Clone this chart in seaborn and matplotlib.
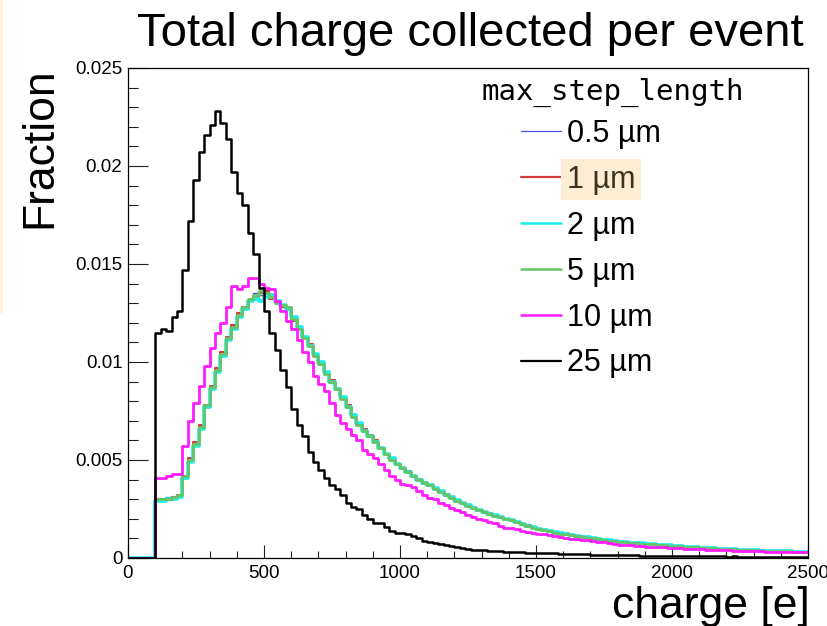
import numpy as np
import pandas as pd
import matplotlib
matplotlib.use("Agg")
import matplotlib.pyplot as plt
from matplotlib.ticker import MultipleLocator, FuncFormatter
from matplotlib.lines import Line2D
from matplotlib.patches import Rectangle
import seaborn as sns

sns.set_style("ticks")
plt.rcParams["font.family"] = ["Liberation Sans", "DejaVu Sans"]
plt.rcParams["text.color"] = "black"
plt.rcParams["axes.labelcolor"] = "black"
plt.rcParams["xtick.color"] = "black"
plt.rcParams["ytick.color"] = "black"

# Histogram binning of collected charge [e]; nothing is recorded below threshold
charge_threshold = 100
charge_max = 2500
bin_width = 20

step_labels = ["0.5 µm", "1 µm", "2 µm", "5 µm", "10 µm", "25 µm"]
step_colors = ["#4a55f0", "#d23c3c", "#19eef0", "#66c466", "#ff1cff", "#000000"]
plot_widths = [1.0, 1.5, 2.6, 2.0, 2.0, 1.8]
legend_widths = [0.9, 1.6, 1.8, 1.8, 1.8, 1.6]

# Fraction of events per bin, in units of 1e-4, bins starting at 100 e
frac_0p5um = [
    30, 30, 31, 31, 32, 41, 50, 59, 68, 77,
    87, 96, 104, 112, 118, 124, 127, 132, 135, 134,
    135, 134, 130, 128, 128, 122, 117, 112, 108, 103,
    100, 94, 90, 86, 81, 77, 72, 68, 65, 62,
    59, 56, 53, 50, 48, 46, 44, 42, 40, 38.5,
    37, 35, 33.5, 32, 30.5, 29, 28, 26.5, 25.5, 24.5,
    23.5, 22.5, 21.5, 21, 20, 19.5, 18.5, 17.5, 16.5, 15.5,
    15, 14.2, 13.6, 13, 12.5, 12, 11.6, 11.2, 10.8, 10.4,
    10, 9.6, 9.2, 8.9, 8.6, 8.3, 8.0, 7.8, 7.6, 7.3,
    7.1, 6.9, 6.7, 6.5, 6.3, 6.1, 5.9, 5.7, 5.5, 5.4,
    5.2, 5.1, 4.9, 4.8, 4.6, 4.5, 4.4, 4.3, 4.1, 4.0,
    3.9, 3.8, 3.7, 3.6, 3.5, 3.4, 3.4, 3.3, 3.2, 3.2,
]
frac_1um = [
    30, 30, 30, 31, 32, 42, 51, 59, 68, 78,
    88, 97, 105, 113, 119, 125, 128, 131, 133, 135,
    136, 132, 130, 128, 127, 121, 118, 113, 109, 103,
    99, 95, 91, 86, 82, 78, 73, 69, 66, 63,
    60, 56, 53, 50, 48, 46, 44.5, 42, 40.5, 39,
    37, 35, 34, 32.5, 31, 29, 28, 27, 25.5, 24.5,
    23.5, 23, 21.5, 21, 20, 19.5, 18.5, 17.5, 17, 16,
    15, 14.3, 13.8, 13.1, 12.7, 12.1, 11.8, 11.2, 10.9, 10.4,
    10.1, 9.6, 9.3, 8.9, 8.7, 8.3, 8.1, 7.8, 7.7, 7.3,
    7.2, 6.9, 6.8, 6.5, 6.3, 6.2, 5.9, 5.8, 5.5, 5.5,
    5.2, 5.1, 5.0, 4.8, 4.6, 4.5, 4.4, 4.3, 4.1, 4.0,
    3.9, 3.9, 3.7, 3.6, 3.5, 3.4, 3.4, 3.3, 3.2, 3.2,
]
frac_2um = [
    29, 29, 30, 30, 31, 41, 49, 57, 66, 77,
    86, 95, 103, 111, 117, 123, 127, 131, 132, 131,
    133, 134, 131, 129, 127, 123, 118, 113, 108, 104,
    100, 95, 90, 86, 82, 77, 73, 69, 65, 62,
    59, 56, 53, 51, 48, 46, 44, 42, 40, 38.5,
    37, 35.5, 34, 32, 31, 29.5, 28, 27, 25.5, 24.5,
    23.5, 22.5, 22, 21, 20, 19.5, 18.5, 17.5, 16.5, 16,
    15, 14.5, 13.8, 13.2, 12.6, 12.1, 11.7, 11.3, 10.9, 10.5,
    10.1, 9.7, 9.3, 9.0, 8.7, 8.4, 8.1, 7.9, 7.6, 7.4,
    7.2, 6.9, 6.7, 6.5, 6.4, 6.2, 6.0, 5.8, 5.6, 5.4,
    5.3, 5.1, 5.0, 4.8, 4.7, 4.5, 4.4, 4.3, 4.2, 4.0,
    3.9, 3.8, 3.7, 3.6, 3.5, 3.5, 3.4, 3.3, 3.3, 3.2,
]
frac_5um = [
    30, 30, 30, 31, 32, 42, 50, 58, 67, 78,
    87, 96, 104, 112, 118, 124, 128, 132, 134, 136,
    135, 133, 130, 129, 128, 122, 117, 112, 108, 103,
    99, 94, 90, 86, 81, 77, 72, 68, 65, 62,
    59, 56, 53, 50, 48, 46, 44, 42, 40, 38.5,
    37, 35, 33.5, 32, 30.5, 29, 28, 26.5, 25.5, 24.5,
    23.5, 22.5, 21.5, 21, 20, 19.5, 18.5, 17.5, 16.5, 15.5,
    15, 14.2, 13.6, 13, 12.5, 12, 11.6, 11.2, 10.8, 10.4,
    10, 9.6, 9.2, 8.9, 8.6, 8.3, 8.0, 7.8, 7.6, 7.3,
    7.1, 6.9, 6.7, 6.5, 6.3, 6.1, 5.9, 5.7, 5.5, 5.4,
    5.2, 5.1, 4.9, 4.8, 4.6, 4.5, 4.4, 4.3, 4.1, 4.0,
    3.9, 3.8, 3.7, 3.6, 3.5, 3.4, 3.4, 3.3, 3.2, 3.2,
]
frac_10um = [
    41, 41, 42, 43, 43, 57, 70, 79, 88, 98,
    107, 115, 120, 128, 139, 137, 139, 143, 143, 140,
    138, 137, 131, 126, 121, 117, 111, 105, 100, 93,
    89, 85, 79, 73, 69, 66, 63, 60, 55, 53,
    51, 48, 45, 42, 40, 38, 37, 36, 34, 32,
    30.5, 30, 28, 27, 25.5, 24.5, 23.5, 22, 21, 20,
    19.5, 18.5, 18, 16.5, 15.5, 15.5, 15, 14, 13.5, 13,
    12.5, 12, 11.5, 11, 10.5, 10, 9.8, 9.5, 9.2, 9,
    8.5, 8.2, 8, 7.5, 7.2, 6.8, 6.6, 6.4, 6.2, 6.0,
    5.8, 5.6, 5.5, 5.4, 5.2, 5.0, 4.9, 4.8, 4.6, 4.5,
    4.4, 4.3, 4.2, 4.1, 4.0, 3.9, 3.8, 3.7, 3.6, 3.5,
    3.4, 3.4, 3.3, 3.2, 3.1, 3.1, 3.0, 3.0, 2.9, 2.9,
]
frac_25um = [
    115, 117, 116, 123, 126, 147, 172, 193, 207, 216,
    221, 228, 222, 214, 197, 186, 180, 166, 155, 138,
    126, 115, 106, 96, 87, 76, 68, 62, 54, 49,
    45, 41, 37, 35, 32, 28, 26, 25, 22, 20,
    18, 18, 16, 14, 13, 13, 12, 11, 10, 8.5,
    8, 7.5, 7, 6.5, 6, 5.5, 5, 4.5, 4.3, 4,
    4, 3.8, 3.6, 3.4, 3.3, 3.1, 3, 2.9, 2.7, 2.6,
    2.5, 2.4, 2.3, 2.3, 2.1, 2.0, 2.0, 1.9, 1.8, 1.8,
    1.7, 1.7, 1.6, 1.5, 1.6, 1.4, 1.4, 1.3, 1.4, 1.2,
    1.2, 1.2, 1.1, 1.1, 1.0, 1.1, 1.0, 0.9, 1.0, 0.9,
    0.9, 0.8, 0.9, 0.8, 0.8, 0.7, 0.8, 0.7, 0.7, 0.7,
    0.6, 0.7, 0.6, 0.6, 0.6, 0.5, 0.6, 0.5, 0.5, 0.5,
]
series = [frac_0p5um, frac_1um, frac_2um, frac_5um, frac_10um, frac_25um]

# Bin edges: one empty bin below threshold so each outline starts on the baseline
edges = np.concatenate([[0], np.arange(charge_threshold, charge_max + 1, bin_width)])
centers = 0.5 * (edges[:-1] + edges[1:])
bin_list = [float(e) for e in edges]

fig = plt.figure(figsize=(8.28, 6.26), dpi=100)
ax = fig.add_axes([128 / 828, 68 / 626, 680 / 828, 490 / 626])

for label, values, color, lw in zip(step_labels, series, step_colors, plot_widths):
    df = pd.DataFrame({
        "charge": centers,
        "fraction": np.concatenate([[0.0], np.asarray(values, float) * 1e-4]),
    })
    sns.histplot(data=df, x="charge", weights="fraction", bins=bin_list,
                 element="step", fill=False, color=color, linewidth=lw, ax=ax)

ax.set_xlim(0, charge_max)
ax.set_ylim(0, 0.025)
ax.set_xlabel("")
ax.set_ylabel("")

ax.xaxis.set_major_locator(MultipleLocator(500))
ax.xaxis.set_minor_locator(MultipleLocator(100))
ax.yaxis.set_major_locator(MultipleLocator(0.005))
ax.yaxis.set_minor_locator(MultipleLocator(0.001))
ax.yaxis.set_major_formatter(FuncFormatter(lambda v, p: "0" if abs(v) < 1e-12 else f"{v:g}"))
ax.xaxis.set_major_formatter(FuncFormatter(lambda v, p: f"{v:g}"))

ax.tick_params(axis="both", which="both", direction="in", top=False, right=False,
               color="#222222", width=0.8, labelsize=13.5, labelcolor="black")
ax.tick_params(axis="x", which="major", length=9.4, pad=5)
ax.tick_params(axis="x", which="minor", length=5.0)
ax.tick_params(axis="y", which="major", length=14.4, pad=4)
ax.tick_params(axis="y", which="minor", length=7.2)
for side in ["left", "right", "top", "bottom"]:
    ax.spines[side].set_visible(True)
    ax.spines[side].set_color("black")
    ax.spines[side].set_linewidth(0.9)

fig.text(470 / 828, 1 - 46 / 626, "Total charge collected per event",
         ha="center", va="baseline", fontsize=34)
fig.text(810 / 828, 1 - 618 / 626, "charge [e]",
         ha="right", va="baseline", fontsize=32)
fig.text(39.5 / 828, 1 - 67 / 626, "Fraction", rotation=90,
         ha="center", va="top", fontsize=32)

# legend heading drawn in a monospace face above the entries
fig.text(482 / 828, 1 - 100 / 626, "max_step_length", ha="left", va="baseline",
         fontsize=21, family="DejaVu Sans Mono")

handles = [Line2D([], [], color=c, lw=w) for c, w in zip(step_colors, legend_widths)]
leg = ax.legend(handles, step_labels,
                loc="upper left", bbox_to_anchor=(521 / 828, 1 - 119 / 626),
                bbox_transform=fig.transFigure, frameon=False, fontsize=22,
                handlelength=1.3, handletextpad=0.2, labelspacing=0.52,
                borderpad=0, borderaxespad=0)

# selected legend entry
sel = leg.get_texts()[1]
sel.set_color("#3b3220")
sel.set_bbox(dict(facecolor="#fdeed3", edgecolor="none", boxstyle="square,pad=0.18"))

# thin highlight strip along the left border
fig.add_artist(Rectangle((0, 1 - 313 / 626), 3 / 828, 313 / 626,
                         transform=fig.transFigure, facecolor="#fdf1d9",
                         edgecolor="none"))

fig.savefig("out.png", dpi=100)
